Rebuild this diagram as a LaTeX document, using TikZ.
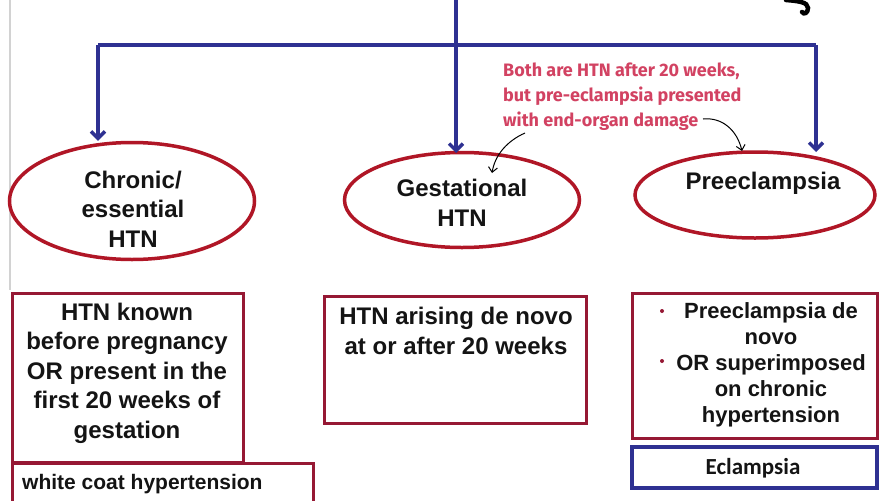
\documentclass[tikz,border=0pt]{standalone}
\usepackage{fontspec}
\setmainfont{Liberation Sans}
\newfontfamily\annotfont{Fira Sans}
\newfontfamily\califont{Carlito}
\usetikzlibrary{shapes.geometric,arrows.meta}
\definecolor{myblue}{RGB}{46,49,146}
\definecolor{ellred}{RGB}{176,22,38}
\definecolor{boxred}{RGB}{150,24,52}
\definecolor{annotc}{RGB}{210,66,98}
\definecolor{txtc}{RGB}{20,20,20}
\tikzset{
  ell/.style={ellipse, draw=ellred, line width=3.5pt, inner sep=0pt},
  bigtxt/.style={font=\bfseries\fontsize{24}{29.5}\selectfont, align=center, text=txtc, inner sep=0pt},
  midtxt/.style={font=\bfseries\fontsize{22}{26}\selectfont, align=center, text=txtc, inner sep=0pt},
  rbox/.style={draw=boxred, line width=3pt, rectangle, inner sep=0pt},
  bbox/.style={draw=myblue, line width=4pt, rectangle, inner sep=0pt},
  barrow/.style={draw=myblue, line width=3.5pt, -{Straight Barb[length=7pt,width=14pt]}},
  bline/.style={draw=myblue, line width=3.5pt},
  karrow/.style={draw=black, line width=1pt, -{Straight Barb[length=5pt,width=9pt]}},
  bul/.style={circle, fill=boxred, inner sep=0pt, minimum size=4pt},
}
\begin{document}
\begin{tikzpicture}[x=1pt,y=-1pt]
\useasboundingbox (0,0) rectangle (879,501);
\fill[white] (0,0) rectangle (879,501);
% left gray rule
\draw[gray!35, line width=1.5pt] (10,0) -- (10,290);
% squiggle top right
\draw[black, line width=4.5pt, line cap=round] (786,0) .. controls (798,1) and (808,2) .. (808,8) .. controls (808,13) and (804,15) .. (802,12);

% ellipses
\node[ell, minimum width=245pt, minimum height=117pt] (chron) at (132,201) {};
\node[ell, minimum width=235pt, minimum height=95pt] (gest) at (462,200) {};
\node[ell, minimum width=240pt, minimum height=86pt] (pre) at (755,195) {};
\node[bigtxt] (chronT) at (133,209) {Chronic/\\essential\\HTN};
\node[bigtxt] (gestT) at (462,203) {Gestational\\HTN};
\node[bigtxt] (preT) at (763,183) {Preeclampsia};

% blue tree
\coordinate (top) at (456,0);
\coordinate (jm) at (456,45);
\coordinate (jl) at (98,45);
\coordinate (jr) at (816,45);
\draw[bline] (top) -- (jm);
\draw[bline] (jl) -- (jr);
\draw[barrow] (jl) -- (jl |- chron.north);
\draw[barrow] (jm) -- (456,153);
\draw[barrow] (jr) -- (816,152);

% boxes
\node[rbox, minimum width=231pt, minimum height=169pt] (chronB) at (127.5,377.5) {};
\node[bigtxt] (chronBT) at (127,373) {HTN known\\before pregnancy\\OR present in the\\first 20 weeks of\\gestation};
\node[rbox, minimum width=301pt, minimum height=52pt] (white) at (162.5,489) {};
\node[font=\bfseries\fontsize{21}{25}\selectfont, text=txtc, anchor=west, inner sep=0pt] (whiteT) at (22,484) {white coat hypertension};

\node[rbox, minimum width=262pt, minimum height=127pt] (gestB) at (455,359.5) {};
\node[bigtxt] (gestBT) at (456,331) {HTN arising de novo\\at or after 20 weeks};

\node[rbox, minimum width=245pt, minimum height=145pt] (preB) at (754.5,365.5) {};
\node[midtxt] (preBT) at (771,365) {Preeclampsia de\\novo\\OR superimposed\\on chronic\\hypertension};
\node[bul] (b1) at (662,311) {};
\node[bul] (b2) at (662,361) {};

\node[bbox, minimum width=245pt, minimum height=41pt] (ecl) at (754.5,467.5) {};
\node[font=\califont\bfseries\fontsize{23}{27}\selectfont, text=txtc, inner sep=0pt] (eclT) at (753,468) {Eclampsia};

% annotation
\node[font=\annotfont\bfseries\fontsize{18}{25}\selectfont, text=annotc, align=left, anchor=west, inner sep=0pt] (note) at (503,97) {Both are HTN after 20 weeks,\\but pre-eclampsia presented\\with end-organ damage};
\coordinate (a1s) at (703,119);
\coordinate (a1e) at (742,151);
\coordinate (a2s) at (525,133);
\coordinate (a2e) at (492,173);
\draw[karrow] (a1s) .. controls (722,117) and (737,130) .. (a1e);
\draw[karrow] (a2s) .. controls (507,141) and (495,155) .. (a2e);
\end{tikzpicture}
\end{document}
